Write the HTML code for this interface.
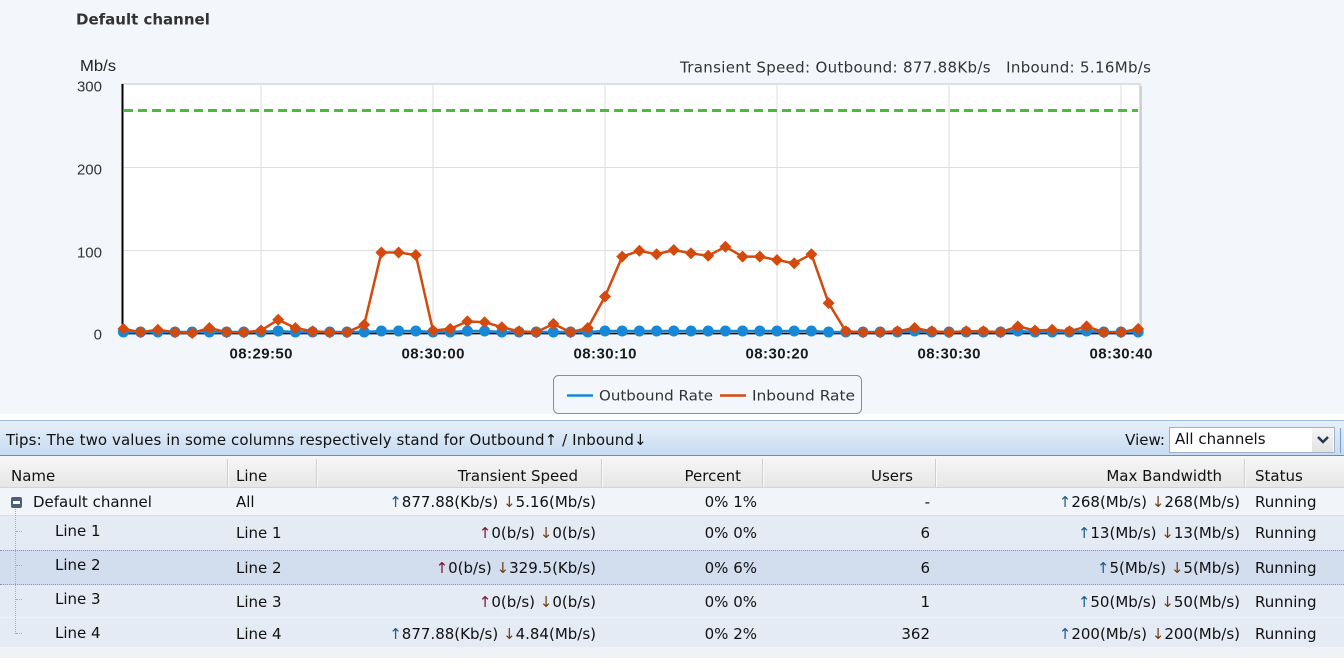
<!DOCTYPE html>
<html><head><meta charset="utf-8">
<style>
html,body{margin:0;padding:0;width:1344px;height:670px;overflow:hidden;background:#fff;}
body{position:relative;font-family:"DejaVu Sans","Liberation Sans",sans-serif;font-size:15px;color:#111;}
.a{position:absolute;white-space:nowrap;line-height:20px;}
.r{text-align:right;}
.sep{position:absolute;top:459px;width:1px;height:28px;background:#cfcfcf;border-right:1px solid #fafafa;}
.row{position:absolute;left:0;width:1344px;}
.u1{color:#1d5a8c;}
.u0{color:#7a1030;}
.dn{color:#6b3f12;}
</style></head><body>
<svg width="1344" height="420" style="position:absolute;left:0;top:0" xmlns="http://www.w3.org/2000/svg">
 <defs>
  <marker id="mc" markerUnits="userSpaceOnUse" markerWidth="12" markerHeight="12" refX="6" refY="6" overflow="visible"><circle cx="6" cy="6" r="5.5" fill="#1788d8"/></marker>
  <marker id="md" markerUnits="userSpaceOnUse" markerWidth="12" markerHeight="12" refX="6" refY="6" overflow="visible"><path d="M6 0 L12 6 L6 12 L0 6Z" fill="#d44a0c"/></marker>
 </defs>
 <rect x="0" y="0" width="1344" height="414" fill="#f3f6fb"/>
 <text x="76" y="24.5" font-family="DejaVu Sans, sans-serif" font-weight="bold" font-size="15" fill="#333">Default channel</text>
 <text x="80" y="71" font-family="Liberation Sans, sans-serif" font-size="15.5" fill="#222" textLength="36" lengthAdjust="spacingAndGlyphs">Mb/s</text>
 <text x="1151" y="72.5" text-anchor="end" font-family="DejaVu Sans, sans-serif" font-size="15" fill="#333" textLength="471" lengthAdjust="spacing" xml:space="preserve">Transient Speed: Outbound: 877.88Kb/s   Inbound: 5.16Mb/s</text>
 <!-- plot area -->
 <rect x="124" y="86" width="1018" height="249" fill="#d0d4da"/>
 <rect x="122" y="84" width="1018" height="249" fill="#fff" stroke="#c4c4c4" stroke-width="1"/>
 <g stroke="#dedede" stroke-width="1">
  <line x1="122" y1="167.5" x2="1140" y2="167.5"/>
  <line x1="122" y1="250.5" x2="1140" y2="250.5"/>
  <line x1="261" y1="84" x2="261" y2="333"/>
  <line x1="433" y1="84" x2="433" y2="333"/>
  <line x1="605" y1="84" x2="605" y2="333"/>
  <line x1="777" y1="84" x2="777" y2="333"/>
  <line x1="949" y1="84" x2="949" y2="333"/>
  <line x1="1121" y1="84" x2="1121" y2="333"/>
 </g>
 <line x1="124" y1="110.5" x2="1138" y2="110.5" stroke="#4cba3a" stroke-width="3" stroke-dasharray="9,5"/>
 <line x1="122.5" y1="84" x2="122.5" y2="334" stroke="#000" stroke-width="2"/>
 <line x1="122" y1="333.5" x2="1140" y2="333.5" stroke="#111" stroke-width="1.5"/>
 <polyline fill="none" stroke="#1788d8" stroke-width="2.5" marker-start="url(#mc)" marker-mid="url(#mc)" marker-end="url(#mc)"
  points="123.4,332 140.6,332 157.8,332 175,332 192.2,332 209.4,332 226.6,332 243.8,332 261,332 278.2,331 295.4,332 312.6,332 329.8,332 347,332 364.2,332 381.4,331 398.6,331 415.8,331 433,332 450.2,332 467.4,331 484.6,331 501.8,332 519,332 536.2,332 553.4,332 570.6,332 587.8,332 605,331 622.2,331 639.4,331 656.6,331 673.8,331 691,331 708.2,331 725.4,331 742.6,331 759.8,331 777,331 794.2,331 811.4,331 828.6,332 845.8,332 863,332 880.2,332 897.4,332 914.6,331 931.8,332 949,332 966.2,332 983.4,332 1000.6,332 1017.8,331 1035,332 1052.2,332 1069.4,332 1086.6,331 1103.8,332 1121,332 1138.2,332"/>
 <polyline fill="none" stroke="#d44a0c" stroke-width="2.5" stroke-linejoin="round" marker-start="url(#md)" marker-mid="url(#md)" marker-end="url(#md)"
  points="123.4,328.9 140.6,332.2 157.8,329.7 175,332.2 192.2,333 209.4,328 226.6,332.2 243.8,332.2 261,330.5 278.2,319.7 295.4,328 312.6,331.3 329.8,332.2 347,332.2 364.2,324.7 381.4,252.5 398.6,252.5 415.8,255 433,330.5 450.2,328.9 467.4,321.4 484.6,322.2 501.8,327.2 519,331.3 536.2,332.2 553.4,323.9 570.6,332.2 587.8,328 605,296.5 622.2,256.6 639.4,250.8 656.6,254.2 673.8,250 691,253.3 708.2,255.8 725.4,246.7 742.6,256.6 759.8,256.6 777,260 794.2,263.3 811.4,254.2 828.6,303.1 845.8,331.3 863,332.2 880.2,332.2 897.4,331.3 914.6,328 931.8,331.3 949,332.2 966.2,331.3 983.4,331.3 1000.6,332.2 1017.8,326.4 1035,330.5 1052.2,329.7 1069.4,331.3 1086.6,326.4 1103.8,332.2 1121,332.2 1138.2,328.9"/>
 <g font-family="Liberation Sans, sans-serif" font-size="15" fill="#333" text-anchor="end">
  <text x="102" y="91.5">300</text>
  <text x="102" y="174.5">200</text>
  <text x="102" y="257.5">100</text>
  <text x="102" y="339.5">0</text>
 </g>
 <g font-family="Liberation Sans, sans-serif" font-size="15" font-weight="bold" fill="#1a1a1a" text-anchor="middle">
  <text x="261" y="358.5" textLength="63" lengthAdjust="spacing">08:29:50</text>
  <text x="433" y="358.5" textLength="63" lengthAdjust="spacing">08:30:00</text>
  <text x="605" y="358.5" textLength="63" lengthAdjust="spacing">08:30:10</text>
  <text x="777" y="358.5" textLength="63" lengthAdjust="spacing">08:30:20</text>
  <text x="949" y="358.5" textLength="63" lengthAdjust="spacing">08:30:30</text>
  <text x="1121" y="358.5" textLength="63" lengthAdjust="spacing">08:30:40</text>
 </g>
 <!-- legend -->
 <rect x="553.5" y="375.5" width="308" height="38" rx="5" ry="5" fill="#f3f6fb" stroke="#8c8c8c" stroke-width="1"/>
 <line x1="567" y1="395.5" x2="593" y2="395.5" stroke="#1788d8" stroke-width="2.5"/>
 <text x="599" y="400.5" font-family="DejaVu Sans, sans-serif" font-size="14" fill="#333" textLength="114" lengthAdjust="spacingAndGlyphs">Outbound Rate</text>
 <line x1="720" y1="395.5" x2="746" y2="395.5" stroke="#d44a0c" stroke-width="2.5"/>
 <text x="752" y="400.5" font-family="DejaVu Sans, sans-serif" font-size="14" fill="#333" textLength="103" lengthAdjust="spacingAndGlyphs">Inbound Rate</text>
</svg>

<!-- tips bar -->
<div style="position:absolute;left:0;top:420px;width:1344px;height:34px;border-top:1px solid #9dbde4;border-bottom:1px solid #6a8dbd;background:linear-gradient(#e6f0fb,#c8dbf0);"></div>
<div class="a" style="left:6px;top:430px;color:#111;letter-spacing:0.09px;">Tips: The two values in some columns respectively stand for Outbound↑ / Inbound↓</div>
<div class="a r" style="right:179px;top:430px;color:#111;">View:</div>
<div style="position:absolute;left:1169px;top:427px;width:164px;height:24px;border:1px solid #9fb1ca;background:#fff;"></div>
<div class="a" style="left:1175px;top:429px;color:#111;">All channels</div>
<div style="position:absolute;left:1312px;top:428px;width:21px;height:24px;background:linear-gradient(#f6f6f6,#e2e2e2);"></div>
<svg width="14" height="10" style="position:absolute;left:1316px;top:435px"><path d="M2 2 L7 7 L12 2" fill="none" stroke="#2a3550" stroke-width="2.5"/></svg>
<div style="position:absolute;left:1340px;top:428px;width:1px;height:25px;background:#7c9cc8;"></div>

<!-- header -->
<div style="position:absolute;left:0;top:456px;width:1344px;height:31px;background:linear-gradient(#f7f7f7,#e6e6e6);border-bottom:1px solid #d4d4d4;"></div>
<div class="sep" style="left:227px"></div>
<div class="sep" style="left:316px"></div>
<div class="sep" style="left:601px"></div>
<div class="sep" style="left:762px"></div>
<div class="sep" style="left:935px"></div>
<div class="sep" style="left:1244px"></div>
<div class="a" style="left:11px;top:466px;">Name</div>
<div class="a" style="left:236px;top:466px;">Line</div>
<div class="a r" style="right:766px;top:466px;">Transient Speed</div>
<div class="a r" style="right:603px;top:466px;">Percent</div>
<div class="a r" style="right:431px;top:466px;">Users</div>
<div class="a r" style="right:122px;top:466px;">Max Bandwidth</div>
<div class="a" style="left:1255px;top:466px;">Status</div>

<!-- rows backgrounds -->
<div class="row" style="top:488px;height:27px;background:#f1f4f9;border-bottom:1px solid #d9e0ea;"></div>
<div class="row" style="top:516px;height:34px;background:#e4ebf4;border-bottom:1px solid #d6dee9;"></div>
<div class="row" style="top:550px;height:33px;background:#d2ddee;border-top:1px dotted #7f93b8;border-bottom:1px dotted #7f93b8;"></div>
<div class="row" style="top:585px;height:32px;background:#e4ebf4;border-bottom:1px solid #eef2f7;"></div>
<div class="row" style="top:618px;height:29px;background:#e4ebf4;"></div>
<div class="row" style="top:647px;height:11px;background:#eff3f8;"></div>

<!-- tree -->
<div style="position:absolute;left:11px;top:497px;width:11px;height:11px;border-radius:2px;background:#4e6079;"></div>
<div style="position:absolute;left:13px;top:501px;width:7px;height:3px;background:#fff;"></div>
<div style="position:absolute;left:15px;top:509px;width:0;height:125px;border-left:1px dotted #a8adb5;"></div>
<div style="position:absolute;left:16px;top:531px;width:6px;border-top:1px dotted #a8adb5;"></div>
<div style="position:absolute;left:16px;top:565px;width:6px;border-top:1px dotted #a8adb5;"></div>
<div style="position:absolute;left:16px;top:599px;width:6px;border-top:1px dotted #a8adb5;"></div>
<div style="position:absolute;left:16px;top:633px;width:6px;border-top:1px dotted #a8adb5;"></div>

<!-- row: default -->
<div class="a" style="left:33px;top:492px;">Default channel</div>
<div class="a" style="left:236px;top:492px;">All</div>
<div class="a r" style="right:748px;top:492px;"><span class="u1">↑</span>877.88(Kb/s) <span class="dn">↓</span>5.16(Mb/s)</div>
<div class="a r" style="right:587px;top:492px;">0% 1%</div>
<div class="a r" style="right:414px;top:492px;">-</div>
<div class="a r" style="right:104px;top:492px;"><span class="u1">↑</span>268(Mb/s) <span class="dn">↓</span>268(Mb/s)</div>
<div class="a" style="left:1255px;top:492px;">Running</div>

<!-- Line 1 -->
<div class="a" style="left:55px;top:521px;">Line 1</div>
<div class="a" style="left:236px;top:523px;">Line 1</div>
<div class="a r" style="right:748px;top:523px;"><span class="u0">↑</span>0(b/s) <span class="dn">↓</span>0(b/s)</div>
<div class="a r" style="right:587px;top:523px;">0% 0%</div>
<div class="a r" style="right:414px;top:523px;">6</div>
<div class="a r" style="right:104px;top:523px;"><span class="u1">↑</span>13(Mb/s) <span class="dn">↓</span>13(Mb/s)</div>
<div class="a" style="left:1255px;top:523px;">Running</div>

<!-- Line 2 -->
<div class="a" style="left:55px;top:555px;">Line 2</div>
<div class="a" style="left:236px;top:558px;">Line 2</div>
<div class="a r" style="right:748px;top:558px;"><span class="u0">↑</span>0(b/s) <span class="dn">↓</span>329.5(Kb/s)</div>
<div class="a r" style="right:587px;top:558px;">0% 6%</div>
<div class="a r" style="right:414px;top:558px;">6</div>
<div class="a r" style="right:104px;top:558px;"><span class="u1">↑</span>5(Mb/s) <span class="dn">↓</span>5(Mb/s)</div>
<div class="a" style="left:1255px;top:558px;">Running</div>

<!-- Line 3 -->
<div class="a" style="left:55px;top:589px;">Line 3</div>
<div class="a" style="left:236px;top:592px;">Line 3</div>
<div class="a r" style="right:748px;top:592px;"><span class="u0">↑</span>0(b/s) <span class="dn">↓</span>0(b/s)</div>
<div class="a r" style="right:587px;top:592px;">0% 0%</div>
<div class="a r" style="right:414px;top:592px;">1</div>
<div class="a r" style="right:104px;top:592px;"><span class="u1">↑</span>50(Mb/s) <span class="dn">↓</span>50(Mb/s)</div>
<div class="a" style="left:1255px;top:592px;">Running</div>

<!-- Line 4 -->
<div class="a" style="left:55px;top:623px;">Line 4</div>
<div class="a" style="left:236px;top:624px;">Line 4</div>
<div class="a r" style="right:748px;top:624px;"><span class="u1">↑</span>877.88(Kb/s) <span class="dn">↓</span>4.84(Mb/s)</div>
<div class="a r" style="right:587px;top:624px;">0% 2%</div>
<div class="a r" style="right:414px;top:624px;">362</div>
<div class="a r" style="right:104px;top:624px;"><span class="u1">↑</span>200(Mb/s) <span class="dn">↓</span>200(Mb/s)</div>
<div class="a" style="left:1255px;top:624px;">Running</div>
</body></html>
